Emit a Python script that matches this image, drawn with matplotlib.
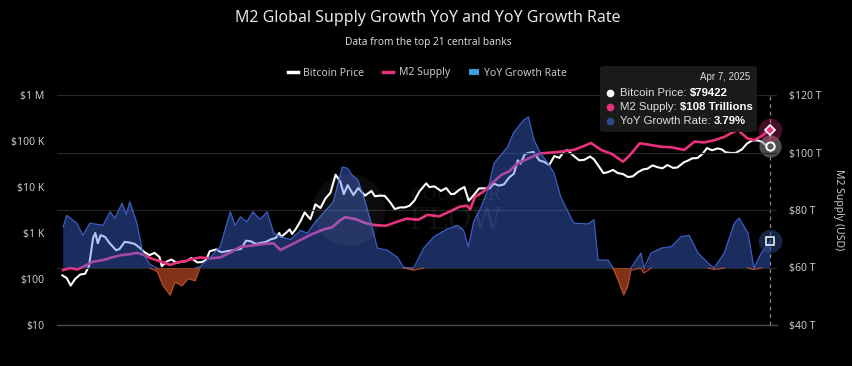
import numpy as np
import pandas as pd
import matplotlib
matplotlib.use('Agg')
import matplotlib.pyplot as plt
from matplotlib.lines import Line2D
from matplotlib.patches import Patch, FancyBboxPatch, Circle
from matplotlib.text import Annotation
from matplotlib.ticker import FixedLocator, NullLocator, NullFormatter

# ---------------- data ----------------
btc_dates = ['2013-05-15', '2013-06-10', '2013-07-05', '2013-08-01', '2013-09-01', '2013-10-01', '2013-10-25',
             '2013-11-20', '2013-12-03', '2013-12-18', '2014-01-05', '2014-02-01', '2014-03-01', '2014-04-10',
             '2014-05-01', '2014-06-01', '2014-07-01', '2014-08-01', '2014-09-01', '2014-10-01', '2014-11-01',
             '2014-12-01', '2015-01-01', '2015-01-15', '2015-02-15', '2015-03-15', '2015-04-15', '2015-05-15',
             '2015-06-15', '2015-07-15', '2015-08-20', '2015-09-15', '2015-10-15', '2015-11-05', '2015-12-15',
             '2016-01-15', '2016-02-15', '2016-03-15', '2016-04-15', '2016-05-15', '2016-06-15', '2016-07-15',
             '2016-08-15', '2016-09-15', '2016-10-15', '2016-11-15', '2016-12-15', '2017-01-05', '2017-01-15',
             '2017-02-15', '2017-03-10', '2017-03-25', '2017-04-15', '2017-05-15', '2017-06-10', '2017-07-15',
             '2017-08-15', '2017-09-15', '2017-10-15', '2017-11-15', '2017-12-17', '2018-01-15', '2018-02-05',
             '2018-03-01', '2018-04-05', '2018-05-05', '2018-06-15', '2018-07-25', '2018-08-15', '2018-09-15',
             '2018-10-15', '2018-11-20', '2018-12-15', '2019-01-15', '2019-02-15', '2019-03-15', '2019-04-15',
             '2019-05-15', '2019-06-26', '2019-07-15', '2019-08-15', '2019-09-25', '2019-10-26', '2019-11-25',
             '2019-12-15', '2020-01-15', '2020-02-15', '2020-03-13', '2020-04-15', '2020-05-15', '2020-06-15',
             '2020-07-15', '2020-08-15', '2020-09-15', '2020-10-15', '2020-11-15', '2020-12-15', '2021-01-08',
             '2021-01-25', '2021-02-20', '2021-03-15', '2021-04-14', '2021-05-20', '2021-06-20', '2021-07-20',
             '2021-08-20', '2021-09-20', '2021-10-20', '2021-11-10', '2021-12-15', '2022-01-20', '2022-02-20',
             '2022-03-28', '2022-04-20', '2022-05-15', '2022-06-18', '2022-07-15', '2022-08-15', '2022-09-15',
             '2022-10-15', '2022-11-15', '2022-12-15', '2023-01-15', '2023-02-15', '2023-03-15', '2023-04-15',
             '2023-05-15', '2023-06-15', '2023-07-15', '2023-08-20', '2023-09-15', '2023-10-25', '2023-11-15',
             '2023-12-15', '2024-01-15', '2024-02-15', '2024-03-14', '2024-04-15', '2024-05-20', '2024-06-15',
             '2024-07-05', '2024-08-05', '2024-09-06', '2024-10-15', '2024-11-15', '2024-12-17', '2025-01-20',
             '2025-02-15', '2025-03-10', '2025-03-25', '2025-04-07']
btc_price = [120, 105, 72, 100, 125, 130, 190,
             800, 1000, 600, 900, 820, 600, 420,
             450, 640, 620, 580, 480, 380, 330,
             370, 300, 190, 240, 265, 225, 237,
             245, 285, 230, 232, 260, 400, 440,
             380, 400, 415, 430, 450, 680, 660,
             575, 610, 640, 730, 780, 1000, 820,
             1000, 1200, 950, 1200, 1800, 2800, 2000,
             4200, 3500, 5600, 7500, 18500, 13000, 7000,
             11000, 6700, 9500, 6500, 8200, 6300, 6500,
             6400, 4500, 3300, 3600, 3600, 3900, 5100,
             8000, 12000, 10000, 10300, 8200, 9500, 7000,
             7100, 8700, 10000, 5000, 6800, 9300, 9400,
             9200, 11800, 10700, 11400, 16000, 19500, 38000,
             32000, 52000, 55000, 58000, 38000, 35000, 30000,
             47000, 43000, 60000, 63000, 48000, 38000, 39000,
             46000, 40000, 30000, 20000, 21000, 23500, 20000,
             19200, 16500, 17000, 21000, 24000, 25000, 29500,
             27000, 25500, 30000, 26000, 26600, 34500, 37000,
             42000, 42500, 52000, 70000, 63000, 69000, 65000,
             57000, 55000, 55000, 66000, 88000, 103000, 103000,
             96000, 82000, 87000, 79422]

m2_years = [2013.38, 2013.50, 2013.62, 2013.75, 2013.88, 2014.05, 2014.20, 2014.35, 2014.50, 2014.62,
            2014.75, 2014.84, 2015.00, 2015.18, 2015.30, 2015.45, 2015.52, 2015.68, 2015.85, 2016.02,
            2016.20, 2016.36, 2016.55, 2016.75, 2016.92, 2017.03, 2017.20, 2017.37, 2017.55, 2017.75,
            2017.90, 2018.04, 2018.12, 2018.30, 2018.45, 2018.60, 2018.80, 2018.95, 2019.15, 2019.35,
            2019.50, 2019.70, 2019.85, 2020.05, 2020.17, 2020.22, 2020.30, 2020.45, 2020.60, 2020.75,
            2020.88, 2021.00, 2021.15, 2021.40, 2021.60, 2021.74, 2021.96, 2022.10, 2022.25, 2022.42,
            2022.60, 2022.79, 2022.90, 2023.07, 2023.20, 2023.43, 2023.60, 2023.82, 2023.99, 2024.15,
            2024.33, 2024.50, 2024.60, 2024.72, 2024.88, 2024.99, 2025.12, 2025.263]
m2_trillions = [59.1, 59.8, 59.3, 60.6, 62.0, 62.6, 63.5, 64.3, 64.6, 65.1,
                64.2, 63.3, 62.2, 60.9, 61.8, 62.3, 62.8, 63.5, 63.2, 63.5,
                65.3, 67.2, 67.6, 68.2, 68.4, 66.1, 67.8, 69.6, 71.5, 73.2,
                74.0, 76.5, 77.5, 76.8, 75.5, 74.8, 74.5, 75.6, 77.0, 76.6,
                78.3, 77.8, 79.2, 81.2, 81.5, 80.2, 84.5, 86.5, 89.5, 92.3,
                93.5, 96.0, 97.5, 99.7, 100.0, 100.3, 100.9, 102.0, 103.3, 100.9,
                99.5, 96.8, 99.0, 103.2, 102.8, 102.0, 101.8, 100.9, 103.8, 103.5,
                104.3, 105.5, 106.7, 107.8, 104.9, 104.3, 105.8, 108.0]

yoy_years = [2013.38, 2013.44, 2013.61, 2013.71, 2013.83, 2014.05, 2014.17, 2014.25, 2014.37, 2014.44,
             2014.50, 2014.62, 2014.72, 2014.84, 2014.96, 2015.06, 2015.18, 2015.26, 2015.38, 2015.48,
             2015.60, 2015.68, 2015.85, 2016.02, 2016.19, 2016.27, 2016.36, 2016.47, 2016.57, 2016.69,
             2016.81, 2016.92, 2017.03, 2017.20, 2017.37, 2017.48, 2017.62, 2017.75, 2017.92, 2018.07,
             2018.16, 2018.24, 2018.33, 2018.43, 2018.54, 2018.66, 2018.83, 2019.00, 2019.10, 2019.27,
             2019.44, 2019.61, 2019.84, 2020.01, 2020.11, 2020.19, 2020.28, 2020.40, 2020.52, 2020.62,
             2020.85, 2020.95, 2021.12, 2021.20, 2021.29, 2021.41, 2021.53, 2021.63, 2021.74, 2021.96,
             2022.20, 2022.30, 2022.37, 2022.54, 2022.62, 2022.72, 2022.80, 2022.87, 2022.92, 2023.09,
             2023.14, 2023.26, 2023.43, 2023.60, 2023.76, 2023.90, 2024.05, 2024.22, 2024.32, 2024.49,
             2024.66, 2024.74, 2024.89, 2024.99, 2025.11, 2025.263]
yoy_pct = [5.8, 7.4, 6.3, 4.6, 6.3, 6.0, 7.9, 7.0, 9.1, 7.5,
           9.3, 6.3, 2.1, 0.5, -0.5, -2.5, -3.8, -2.0, -2.5, -1.5,
           -1.8, 0.2, 1.5, 3.0, 7.9, 6.0, 7.2, 6.5, 7.9, 6.8,
           7.9, 4.9, 4.4, 4.0, 5.3, 4.9, 6.5, 7.7, 9.3, 14.2,
           14.0, 13.0, 12.4, 10.0, 6.8, 2.8, 2.5, 1.5, 0.1, -0.3,
           2.8, 4.4, 5.5, 6.0, 5.3, 3.0, 6.5, 8.5, 11.0, 14.7,
           17.0, 19.0, 20.8, 21.2, 18.0, 16.0, 14.7, 13.3, 10.0, 6.3,
           6.2, 6.8, 1.1, 1.1, 0.0, -2.0, -3.8, -2.5, -0.3, 2.1,
           -0.7, 2.1, 2.8, 3.0, 4.4, 4.6, 2.1, 0.7, -0.2, 2.1,
           6.3, 7.0, 4.9, -0.2, 2.1, 3.79]

left_ticks = [10, 100, 1e3, 1e4, 1e5, 1e6]
left_labels = ['$10', '$100', '$1 K', '$10 K', '$100 K', '$1 M']
right_ticks = [40, 60, 80, 100, 120]
right_labels = ['$40 T', '$60 T', '$80 T', '$100 T', '$120 T']
year_ticks = list(range(2014, 2026))

title = 'M2 Global Supply Growth YoY and YoY Growth Rate'
subtitle = 'Data from the top 21 central banks'
legend_labels = ['Bitcoin Price', 'M2 Supply', 'YoY Growth Rate']
tip_date_label = 'Apr 7, 2025'
tip_date = '2025-04-07'
tip_btc = 79422
tip_m2 = 108
tip_yoy = 3.79


def dec_to_dt(y):
    yr = int(np.floor(y))
    return pd.Timestamp(year=yr, month=1, day=1) + pd.Timedelta(days=(y - yr) * 365.25)


btc_x = pd.to_datetime(btc_dates)
m2_x = pd.DatetimeIndex([dec_to_dt(v) for v in m2_years])
yoy_x = pd.DatetimeIndex([dec_to_dt(v) for v in yoy_years])
yoy = np.array(yoy_pct)

# ---------------- style ----------------
BG = '#000000'
TXT = '#c9c9c9'
PINK = '#e8317c'
NAVY_FILL = '#4470ee'
NAVY_EDGE = '#3a5fc0'
RED_FILL = '#d9562a'
RED_EDGE = '#c4512a'
GRID = '#262626'
FONT = ['Noto Sans', 'DejaVu Sans']
plt.rcParams['font.family'] = FONT

fig = plt.figure(figsize=(8.53, 3.66), dpi=100, facecolor=BG)
ax = fig.add_axes([56.7 / 853, 41 / 366, (777 - 56.7) / 853, 230 / 366])
ax.set_facecolor(BG)
ax2 = ax.twinx()
ax3 = ax.twinx()

xmin = dec_to_dt(2013.271)
xmax = dec_to_dt(2025.375)

# Bitcoin (log)
ax.plot(btc_x, btc_price, color='white', lw=1.5, zorder=3)
ax.set_yscale('log')
ax.set_ylim(10, 1e6)
ax.yaxis.set_major_locator(FixedLocator(left_ticks))
ax.yaxis.set_minor_locator(NullLocator())
ax.yaxis.set_minor_formatter(NullFormatter())
ax.set_yticklabels(left_labels)

# M2 (linear, right)
ax2.plot(m2_x, m2_trillions, color=PINK, lw=1.9, zorder=3)
ax2.set_ylim(40, 120)
ax2.yaxis.set_major_locator(FixedLocator(right_ticks))
ax2.set_yticklabels(right_labels)
ax2.grid(axis='y', color=GRID, lw=0.9, zorder=0)
ax2.set_axisbelow(True)
ax2.set_ylabel('M2 Supply (USD)', color=TXT, fontsize=7.5, rotation=270, labelpad=16)

# YoY area (hidden axis, drawn on top with transparency)
ax3.set_ylim(-8.0, 24.3)
ax3.fill_between(yoy_x, yoy, 0, where=yoy >= 0, interpolate=True, color=NAVY_FILL, alpha=0.4, lw=0)
ax3.fill_between(yoy_x, yoy, 0, where=yoy <= 0, interpolate=True, color=RED_FILL, alpha=0.6, lw=0)
n = len(yoy)
is_neg = yoy < 0
near_neg = np.array([is_neg[i] or (i > 0 and is_neg[i - 1]) or (i < n - 1 and is_neg[i + 1]) for i in range(n)])
is_pos = yoy > 0
near_pos = np.array([is_pos[i] or (i > 0 and is_pos[i - 1]) or (i < n - 1 and is_pos[i + 1]) for i in range(n)])
ax3.plot(yoy_x, np.where(near_pos, np.maximum(yoy, 0), np.nan), color=NAVY_EDGE, lw=0.9)
ax3.plot(yoy_x, np.where(near_neg, np.minimum(yoy, 0), np.nan), color=RED_EDGE, lw=0.9, alpha=0.9)
ax3.set_yticks([])

for a in (ax, ax2, ax3):
    a.set_xlim(xmin, xmax)
    for s in ('top', 'left', 'right', 'bottom'):
        a.spines[s].set_visible(False)
ax.spines['bottom'].set_visible(True)
ax.spines['bottom'].set_color('#4a4a4a')
ax.spines['bottom'].set_linewidth(1.0)

ax.set_xticks([dec_to_dt(y) for y in year_ticks])
ax.set_xticklabels([str(y) for y in year_ticks])
ax.tick_params(axis='x', colors='#555555', length=5, width=1, labelcolor=TXT, labelsize=7.5, pad=6)
ax.tick_params(axis='y', length=0, labelcolor=TXT, labelsize=7.5, pad=9)
ax2.tick_params(axis='y', length=0, labelcolor=TXT, labelsize=7.5, pad=9)
ax3.tick_params(axis='both', length=0)
ax2.set_xticks([])
ax3.set_xticks([])

# crosshair
tip_x = pd.Timestamp(tip_date)
ax.axvline(tip_x, color='#8a8a8a', lw=0.9, ls=(0, (3, 3)), zorder=5)

# markers
ax2.plot([tip_x], [tip_m2], 'o', ms=17, color=PINK, alpha=0.3, mew=0, clip_on=False, zorder=10)
ax2.plot([tip_x], [tip_m2], 'D', ms=5, mfc=PINK, mec='white', mew=1.2, clip_on=False, zorder=11)
ax.plot([tip_x], [tip_btc], 'o', ms=16, color='#8c8c8c', alpha=0.55, mew=0, clip_on=False, zorder=10)
ax.plot([tip_x], [tip_btc], 'o', ms=6, mfc='#555555', mec='white', mew=1.4, clip_on=False, zorder=11)
ax3.plot([tip_x], [tip_yoy], 'o', ms=17, color='#2b4a8c', alpha=0.5, mew=0, clip_on=False, zorder=10)
ax3.plot([tip_x], [tip_yoy], 's', ms=6, mfc='none', mec='white', mew=1.1, clip_on=False, zorder=11)

# watermark
fig.patches.append(Circle((3.49, 1.56), 0.36, transform=fig.dpi_scale_trans, facecolor='white',
                          alpha=0.05, edgecolor='none', zorder=2))
fig.text(455 / 853, 1 - 195 / 366, 'COUNTER', color='white', alpha=0.07, fontsize=12,
         family='DejaVu Serif', ha='center', va='center')
fig.text(455 / 853, 1 - 221 / 366, 'FLOW', color='white', alpha=0.07, fontsize=21,
         family='DejaVu Serif', ha='center', va='center')

# title & subtitle
fig.text(0.502, 1 - 18 / 366, title, color='#e6e6e6', fontsize=11.5, ha='center', va='center')
fig.text(0.502, 1 - 42 / 366, subtitle, color='#d8d8d8', fontsize=7.3, ha='center', va='center')

# legend
handles = [Line2D([], [], color='white', lw=2.5),
           Line2D([], [], color=PINK, lw=2.5),
           Patch(facecolor='#3d9be0', edgecolor='none')]
fig.legend(handles, legend_labels, loc='center', bbox_to_anchor=(0.501, 1 - 73 / 366), ncol=3,
           frameon=False, fontsize=7.5, labelcolor=TXT, handlelength=1.0, handleheight=0.5,
           columnspacing=1.8, handletextpad=0.5)

# tooltip
box = FancyBboxPatch((600 / 853, 1 - 132 / 366), 157 / 853, 66 / 366,
                     boxstyle='round,pad=0,rounding_size=0.006', transform=fig.transFigure,
                     facecolor='#1c1c1c', edgecolor='none', alpha=0.96, zorder=20)
fig.patches.append(box)
TF = ['Liberation Sans', 'DejaVu Sans']
fig.text(750 / 853, 1 - 77 / 366, tip_date_label, color='#dcdcdc', fontsize=7, ha='right', va='center',
         family=TF, zorder=21)
rows = [('Bitcoin Price: ', f'${tip_btc}', 'white', 93),
        ('M2 Supply: ', f'${tip_m2} Trillions', PINK, 107),
        ('YoY Growth Rate: ', f'{tip_yoy}%', '#2b4a8c', 121)]
for lab, val, col, yp in rows:
    yy = 1 - yp / 366
    fig.add_artist(Line2D([610 / 853], [yy], marker='o', ms=5.5, color=col, mew=0,
                          transform=fig.transFigure, zorder=21))
    t1 = fig.text(620 / 853, yy, lab, color='#e0e0e0', fontsize=8.2, ha='left', va='center',
                  family=TF, zorder=21)
    ann = Annotation(val, xy=(1, 0), xycoords=t1, ha='left', va='bottom', color='white', fontsize=8.2,
                     fontweight='bold', family=TF, zorder=22, annotation_clip=False)
    fig.add_artist(ann)

fig.savefig('out.png', dpi=100, facecolor=BG)
